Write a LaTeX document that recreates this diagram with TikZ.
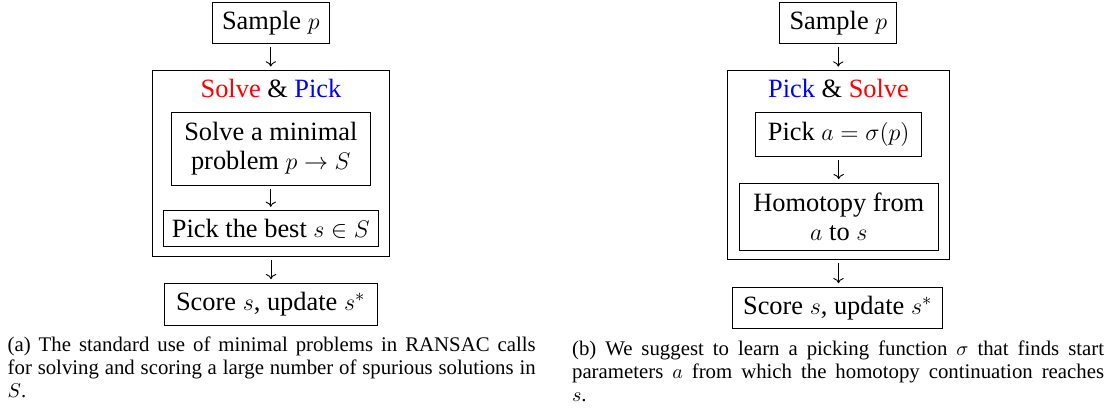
\documentclass[tikz,border=0pt]{standalone}
\usepackage{fontspec}
\setmainfont{Liberation Serif}
\usetikzlibrary{arrows.meta}
\tikzset{
  box/.style={draw, line width=0.5pt, inner sep=0pt, align=center, font=\fontsize{13.2}{14.2}\selectfont},
  ttl/.style={inner sep=0pt, anchor=base, font=\fontsize{13.2}{14.2}\selectfont},
  flow/.style={-{To[length=2.6pt,width=5.2pt]}, line width=0.45pt, shorten <=1.8pt, shorten >=1.8pt},
  captxt/.style={inner sep=0pt, anchor=base west},
}
\begin{document}
\begin{tikzpicture}[x=0.5pt,y=-0.5pt]
\useasboundingbox (0,0) rectangle (1107,408);

% ---------- (a) ----------
\node[box, minimum width=58.5pt, minimum height=20.3pt] (sampleA) at (270.8,23) {Sample $p$};
\node[box, minimum width=118.3pt, minimum height=92.7pt] (outerA) at (271,163.3) {};
\node[ttl] (titleA) at (271,97.5) {\textcolor{red}{Solve} \& \textcolor{blue}{Pick}};
\node[box, minimum width=99.2pt, minimum height=36.2pt] (solveA) at (270.8,148.8) {Solve a minimal\\problem $p \rightarrow S$};
\node[box, minimum width=107.5pt, minimum height=17.9pt] (pickA) at (270.8,228.8) {Pick the best $s \in S$};
\node[box, minimum width=106.7pt, minimum height=20.9pt] (scoreA) at (270.7,304.2) {Score $s$, update $s^{*}$};

\draw[flow] (sampleA.south) -- (sampleA.south |- outerA.north);
\draw[flow] (solveA.south) -- (solveA.south |- pickA.north);
\draw[flow] (outerA.south) -- (outerA.south |- scoreA.north);

\node[captxt] (capA) at (7.3,351) {\parbox[t]{264pt}{\fontsize{10.4}{11.7}\selectfont (a) The standard use of minimal problems in RANSAC calls\linebreak for solving and scoring a large number of spurious solutions in\linebreak $S$.}};

% ---------- (b) ----------
\node[box, minimum width=58.4pt, minimum height=20.3pt] (sampleB) at (838.3,23) {Sample $p$};
\node[box, minimum width=110.8pt, minimum height=94.3pt] (outerB) at (838.5,165) {};
\node[ttl] (titleB) at (838.5,97.5) {\textcolor{blue}{Pick} \& \textcolor{red}{Solve}};
\node[box, minimum width=83pt, minimum height=21.7pt] (pickB) at (838.7,134.3) {Pick $a = \sigma(p)$};
\node[box, minimum width=99.5pt, minimum height=33.7pt] (homB) at (838.8,217) {Homotopy from\\$a$ to $s$};
\node[box, minimum width=105pt, minimum height=20.5pt] (scoreB) at (837.7,307.8) {Score $s$, update $s^{*}$};

\draw[flow] (sampleB.south) -- (sampleB.south |- outerB.north);
\draw[flow] (pickB.south) -- (pickB.south |- homB.north);
\draw[flow] (outerB.south) -- (outerB.south |- scoreB.north);

\node[captxt] (capB) at (571.7,355) {\parbox[t]{266pt}{\fontsize{10.4}{11.7}\selectfont (b) We suggest to learn a picking function $\sigma$ that finds start\linebreak parameters $a$ from which the homotopy continuation reaches\linebreak $s$.}};
\end{tikzpicture}
\end{document}
